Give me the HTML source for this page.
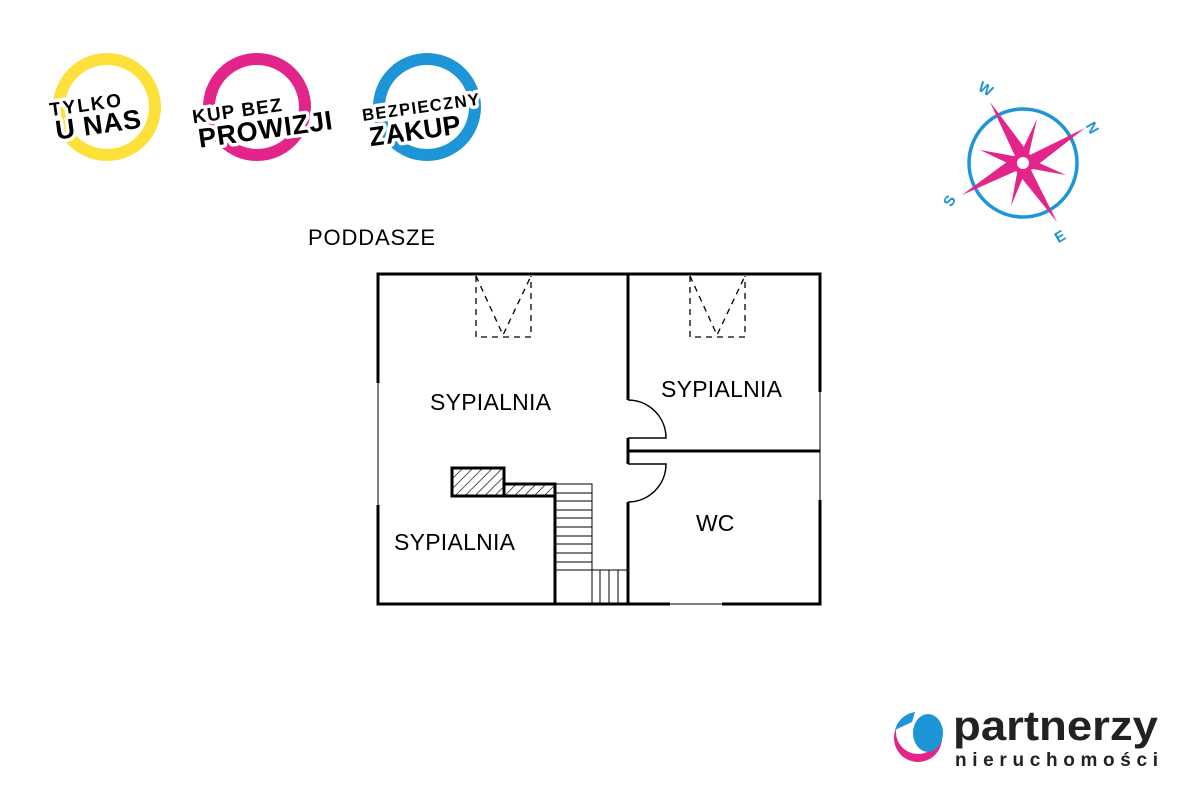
<!DOCTYPE html>
<html><head><meta charset="utf-8"><style>
html,body{margin:0;padding:0;background:#fff;width:1200px;height:800px;overflow:hidden}
svg{display:block}
text{font-family:"Liberation Sans",sans-serif}
.b{font-weight:bold;paint-order:stroke;stroke:#fff;stroke-width:7px;stroke-linejoin:round}
</style></head><body>
<svg width="1200" height="800" viewBox="0 0 1200 800" xmlns="http://www.w3.org/2000/svg">
<defs>
<pattern id="h" patternUnits="userSpaceOnUse" width="7" height="7" patternTransform="rotate(45)">
<line x1="0" y1="0" x2="0" y2="7" stroke="#000" stroke-width="1.3"/>
</pattern>
</defs>
<!-- badges -->
<g>
<circle cx="107" cy="107" r="48" fill="none" stroke="#fde03a" stroke-width="12"/>
<g transform="rotate(-8 95 110)" fill="#000">
<text class="b" x="50" y="110" font-size="19" textLength="72">TYLKO</text>
<text class="b" x="53" y="134" font-size="27" textLength="86">U NAS</text>
</g>
<circle cx="257" cy="107" r="48" fill="none" stroke="#e3248a" stroke-width="12"/>
<g transform="rotate(-8 260 110)" fill="#000">
<text class="b" x="192" y="114" font-size="19" textLength="90">KUP BEZ</text>
<text class="b" x="195" y="139" font-size="27" textLength="135">PROWIZJI</text>
</g>
<circle cx="427" cy="107" r="48" fill="none" stroke="#1e95d7" stroke-width="12"/>
<g transform="rotate(-8 420 110)" fill="#000">
<text class="b" x="362" y="113" font-size="17" textLength="118">BEZPIECZNY</text>
<text class="b" x="366" y="139" font-size="27" textLength="92">ZAKUP</text>
</g>
</g>
<!-- compass -->
<g>
<circle cx="1023" cy="163" r="54" fill="none" stroke="#1e95d7" stroke-width="3.5"/>
<polygon points="990,102 1030,155 1085,128 1031,170 1057,222 1016,171 962,195 1015,156" fill="#e3248a"/>
<polygon points="1037,119 1028,158 1066,175 1027,168 1011,206 1018,168 980,150 1019,157" fill="#e3248a"/>
<circle cx="1023" cy="163" r="10" fill="#e3248a"/>
<circle cx="1023" cy="163" r="6" fill="#fff"/>
<g fill="#1e95d7" font-size="15" font-weight="bold">
<text x="979" y="94" transform="rotate(30 986 88)">W</text>
<text x="1088" y="133" transform="rotate(60 1093 127)">N</text>
<text x="944" y="205" transform="rotate(-60 950 200)">S</text>
<text x="1055" y="241" transform="rotate(-30 1061 236)">E</text>
</g>
</g>
<!-- title -->
<text x="308" y="245" font-size="22" fill="#000" textLength="127">PODDASZE</text>
<!-- plan -->
<g stroke="#000" fill="none">
<path d="M378,383 V274 H820 V392" stroke-width="3"/>
<path d="M820,500 V604 H722" stroke-width="3"/>
<path d="M670,604 H378 V505" stroke-width="3"/>
<path d="M378,383 V505 M820,392 V500 M670,604 H722" stroke-width="1"/>
<path d="M628,274 V400 M628,438 V464 M628,502 V604" stroke-width="3"/>
<path d="M628,451 H820" stroke-width="3"/>
<path d="M628,400 A38,38 0 0 1 666,438 H628" stroke-width="1.5"/>
<path d="M628,502 A38,38 0 0 0 666,464 H628" stroke-width="1.5"/>
<path d="M555,484 V604" stroke-width="3"/>
<rect x="452" y="468" width="52" height="28" fill="url(#h)" stroke-width="3"/>
<rect x="504" y="484" width="51" height="12" fill="url(#h)" stroke="none"/>
<path d="M452,468 H504 V484 H555 V496 H452 Z" stroke-width="3"/>
<g stroke-width="1">
<path d="M555,484 H592 V570 M555,493 H592 M555,501 H592 M555,510 H592 M555,518 H592 M555,527 H592 M555,536 H592 M555,544 H592 M555,553 H592 M555,562 H592 M555,570 H628 M600,570 V604 M609,570 V604 M618,570 V604 M592,570 V604"/>
</g>
<g stroke-width="1.3" stroke-dasharray="6,5">
<path d="M476,276 V337 H531 V276 M476,276 L503,335 L531,276"/>
<path d="M690,276 V337 H745 V276 M690,276 L717,335 L745,276"/>
</g>
</g>
<g font-size="23" fill="#000">
<text x="430" y="410" textLength="121">SYPIALNIA</text>
<text x="661" y="397" textLength="121">SYPIALNIA</text>
<text x="394" y="550" textLength="121">SYPIALNIA</text>
<text x="696" y="531">WC</text>
</g>
<!-- logo -->
<g>
<circle cx="918" cy="738" r="24" fill="#e3248a"/>
<circle cx="918" cy="732" r="22" fill="#fff"/>
<ellipse cx="928" cy="733" rx="15" ry="19" fill="#1e95d7"/>
<path d="M895,730 A24,24 0 0 1 915,712 L912,722 Z" fill="#1e95d7"/>
<text x="953" y="740" font-size="42" font-weight="bold" fill="#222" textLength="205" lengthAdjust="spacingAndGlyphs">partnerzy</text>
<text x="955" y="766" font-size="19" font-weight="bold" fill="#222" textLength="203">nieruchomości</text>
</g>
</svg>
</body></html>
